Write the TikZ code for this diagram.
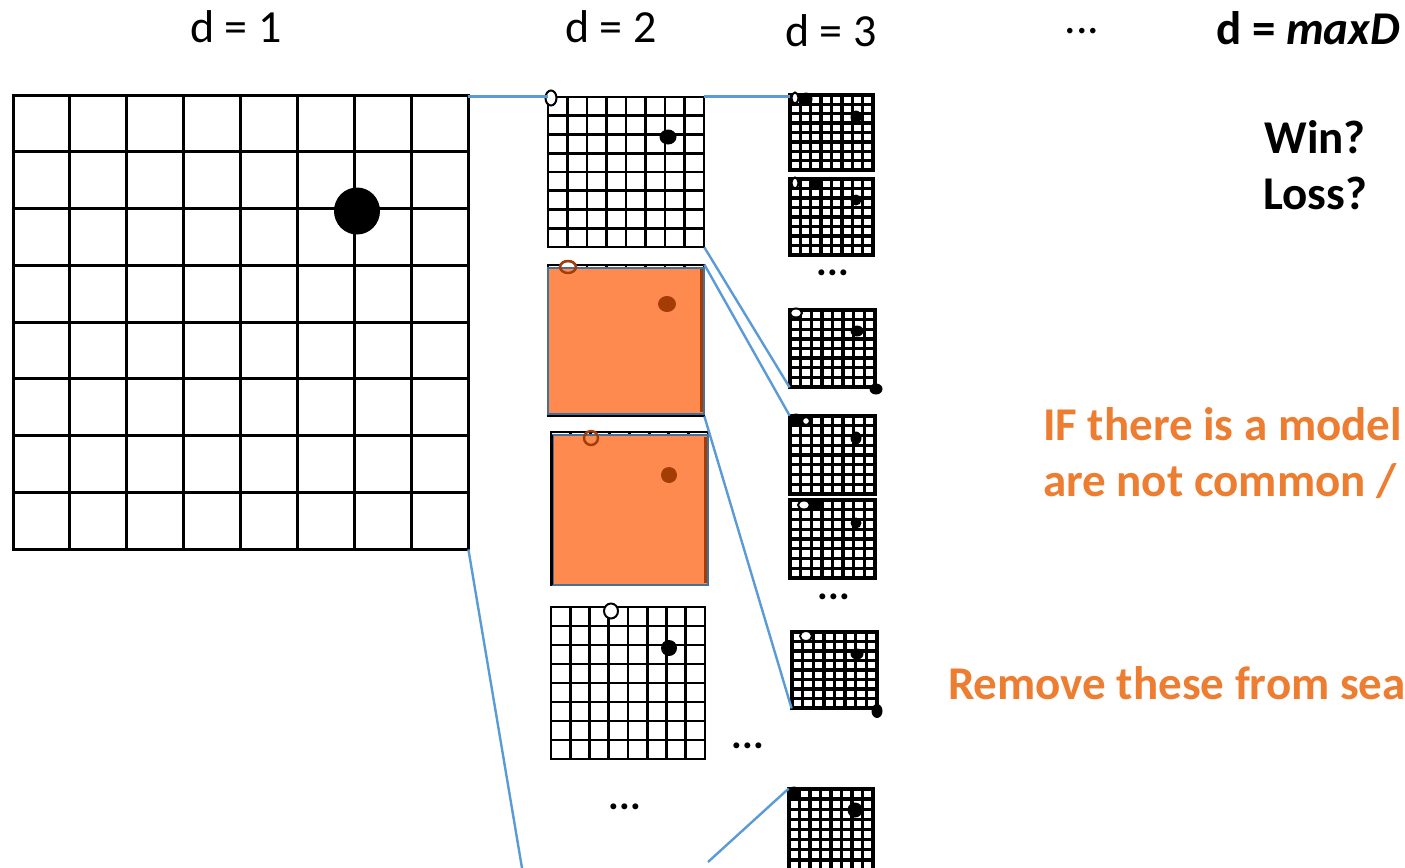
\documentclass[tikz,border=0pt]{standalone}
\usepackage{fontspec}
\setmainfont{Carlito}
\usetikzlibrary{fit}

\definecolor{linkblue}{HTML}{5B9BD5}
\definecolor{edgeblue}{HTML}{41719C}
\definecolor{prunefill}{HTML}{FF8A50}
\definecolor{prunestone}{HTML}{A33C05}
\definecolor{noteorange}{HTML}{ED7D31}

% one go board: name, left, top, right, bottom, line width
\newcommand{\goboard}[6]{%
  \coordinate (#1-nw) at (#2,#3);
  \coordinate (#1-se) at (#4,#5);
  \foreach \k in {0,...,8}{
    \draw[line width=#6,line cap=rect] ({#2+\k*(#4-#2)/8},#3) -- ({#2+\k*(#4-#2)/8},#5);
    \draw[line width=#6,line cap=rect] (#2,{#3+\k*(#5-#3)/8}) -- (#4,{#3+\k*(#5-#3)/8});
  }
  \node[inner sep=0pt,fit=(#1-nw)(#1-se)] (#1) {};
}
% stones: x, y, x radius, y radius
\newcommand{\bstone}[4]{\fill (#1,#2) ellipse [x radius=#3,y radius=#4];}
\newcommand{\wstone}[4]{\filldraw[fill=white,line width=1pt] (#1,#2) ellipse [x radius=#3,y radius=#4];}

\tikzset{
  link/.style={draw=linkblue,line width=1.2pt},
  depth/.style={font=\fontsize{23}{27}\selectfont},
  note/.style={font=\fontsize{23.5}{28}\selectfont\bfseries},
  dots/.style={font=\fontsize{20}{24}\selectfont\bfseries},
  pruned/.style={fill=prunefill,draw=edgeblue,line width=1pt}
}

\begin{document}
\begin{tikzpicture}[x=0.5pt,y=-0.5pt]
  \useasboundingbox (0,0) rectangle (1405,868);

  % depth labels
  \node[depth] (d1) at (236,27) {d = 1};
  \node[depth] (d2) at (611,27) {d = 2};
  \node[depth] (d3) at (831,31) {d = 3};
  \node[depth] (dmid) at (1082,31) {...};
  \node[note] (dmax) at (1308,28) {d = \textit{maxD}};
  \node[note,align=center] (result) at (1315,165) {Win?\\Loss?};

  % d = 1
  \goboard{b1}{13}{95}{468}{549}{1.5pt}
  \bstone{357}{211}{23}{23.5}

  % d = 2
  \goboard{b2a}{548}{97}{704}{247}{1.4pt}
  \wstone{551}{98}{5.5}{7.5}
  \bstone{668}{137}{8.5}{7.5}

  \goboard{b2b}{548}{265}{704}{416}{1.4pt}
  \wstone{568}{267}{8}{6}
  \filldraw[pruned] (548,268) rectangle (704,414);
  \draw[prunestone,line width=1.5pt] (701,269) -- (701,412);
  \draw[prunestone,line width=1.2pt] (568,267) ellipse [x radius=8,y radius=6];
  \fill[prunestone] (667,304) ellipse [x radius=9,y radius=8];

  \goboard{b2c}{551}{432}{708}{585}{1.4pt}
  \filldraw[pruned] (553,435) rectangle (708,585);
  \draw[line width=1.5pt] (551,435) -- (551,585);
  \draw[prunestone,line width=1.5pt] (705,437) -- (705,583);
  \draw[prunestone,line width=1.2pt] (591,438) ellipse [x radius=7,y radius=7];
  \fill[prunestone] (669,475) ellipse [x radius=8,y radius=8];

  \goboard{b2d}{551}{607}{705}{759}{1.4pt}
  \wstone{611}{611}{7}{7.5}
  \bstone{669}{648}{8}{8}

  \node[dots] (more2a) at (748,746) {...};
  \node[dots] (more2b) at (625,807) {...};

  % d = 3
  \goboard{b3a}{790}{95}{873}{170}{1.7pt}
  \wstone{795}{98}{3.5}{5.5}
  \bstone{806}{99}{6.5}{6.5}
  \bstone{856}{117}{5.5}{6.5}

  \goboard{b3b}{790}{179}{873}{255}{1.7pt}
  \wstone{795}{183}{3.5}{5.5}
  \bstone{816}{183}{6}{6}
  \bstone{856}{200}{5.5}{5.5}

  \node[dots] (more3a) at (833,273) {...};

  \goboard{b3c}{790}{310}{875}{387}{1.7pt}
  \wstone{796}{313}{6}{4.5}
  \bstone{857}{331}{6.5}{5.5}
  \bstone{876}{389}{6.5}{5.5}

  \goboard{b3d}{790}{416}{875}{494}{1.7pt}
  \bstone{796}{420}{6.5}{6.5}
  \wstone{806}{421}{4}{4}
  \bstone{856}{438}{5.5}{6.5}

  \goboard{b3e}{790}{500}{875}{578}{1.7pt}
  \wstone{804}{505}{6}{4.5}
  \bstone{817}{505}{5.5}{5}
  \bstone{856}{523}{5.5}{5.5}

  \node[dots] (more3b) at (834,597) {...};

  \goboard{b3f}{792}{632}{877}{708}{1.7pt}
  \wstone{806}{636}{6}{5}
  \bstone{857}{654}{6.5}{5.5}
  \bstone{877}{711}{5.5}{7}

  \goboard{b3g}{789}{789}{873}{870}{1.7pt}
  \bstone{794}{793}{6.5}{6.5}
  \bstone{855}{810}{7.5}{7.5}

  % links between positions
  \coordinate (cut1) at (522,868);
  \coordinate (cut2) at (708,862);
  \draw[link] (b1.north east |- b2a.north west) -- (b2a.north west);
  \draw[link] (b2a.north east) -- (b2a.north east -| b3a.north west);
  \draw[link] (b2a.south east) -- (b3c.south west);
  \draw[link] (b2b.north east) -- (b3d.north west);
  \draw[link] (b2b.south east) -- (b3f.south west);
  \draw[link] (b1.south east) -- (cut1);
  \draw[link] (cut2) -- (b3g.north west);

  % notes
  \node[note,text=noteorange,align=left,anchor=west] (ifmodel) at (1036,453)
    {IF there is a model\\are not common /};
  \node[note,text=noteorange,anchor=west] (remove) at (941,683)
    {Remove these from sea};
\end{tikzpicture}
\end{document}
